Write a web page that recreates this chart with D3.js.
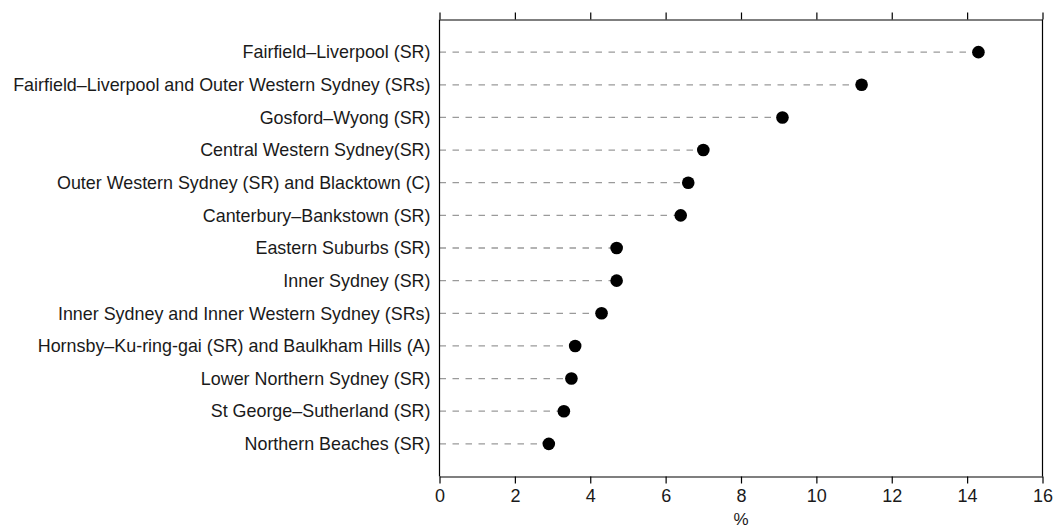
<!DOCTYPE html>
<html>
<head>
<meta charset="utf-8">
<script src="https://cdn.jsdelivr.net/npm/d3@7/dist/d3.min.js"></script>
<style>
  html, body { margin: 0; padding: 0; background: #fff; }
  svg { display: block; }
  text { font-family: "Liberation Sans", Arial, sans-serif; fill: #1a1a1a; }
</style>
</head>
<body>
<svg id="chart" width="1057" height="530"></svg>
<script>
const categories = [
  "Fairfield–Liverpool (SR)",
  "Fairfield–Liverpool and Outer Western Sydney (SRs)",
  "Gosford–Wyong (SR)",
  "Central Western Sydney(SR)",
  "Outer Western Sydney (SR) and Blacktown (C)",
  "Canterbury–Bankstown (SR)",
  "Eastern Suburbs (SR)",
  "Inner Sydney (SR)",
  "Inner Sydney and Inner Western Sydney (SRs)",
  "Hornsby–Ku-ring-gai (SR) and Baulkham Hills (A)",
  "Lower Northern Sydney (SR)",
  "St George–Sutherland (SR)",
  "Northern Beaches (SR)"
];
const values = [14.3, 11.2, 9.1, 7.0, 6.6, 6.4, 4.7, 4.7, 4.3, 3.6, 3.5, 3.3, 2.9];
const xTicks = [0, 2, 4, 6, 8, 10, 12, 14, 16];
const xTitle = "%";

const svg = d3.select("#chart");
const pLeft = 439.5, pRight = 1042.5, pTop = 19.5, pBottom = 476.5;

const x = d3.scaleLinear().domain([0, 16]).range([pLeft, pRight]);
const y = d3.scalePoint().domain(categories).range([pTop, pBottom]).padding(1);

// dashed leader lines
svg.append("g").selectAll("line").data(values).join("line")
  .attr("x1", x(0)).attr("x2", (d) => x(d))
  .attr("y1", (d, i) => y(categories[i])).attr("y2", (d, i) => y(categories[i]))
  .attr("stroke", "#9a9a9a").attr("stroke-width", 1.3)
  .attr("stroke-dasharray", "6.5,6.5");

// frame
const frame = svg.append("g").attr("fill", "none").attr("stroke", "#000").attr("stroke-width", 1.2);
frame.append("line").attr("x1", pLeft).attr("x2", pLeft).attr("y1", pTop).attr("y2", pBottom);
frame.append("line").attr("x1", pRight).attr("x2", pRight).attr("y1", pTop).attr("y2", pBottom);

// top axis (ticks only)
const topAxis = svg.append("g").attr("transform", `translate(0,${pTop})`)
  .call(d3.axisTop(x).tickValues(xTicks).tickSize(7).tickSizeOuter(0).tickFormat(""));
topAxis.selectAll("path, line").attr("stroke", "#000").attr("stroke-width", 1.2);

// bottom axis
const bottomAxis = svg.append("g").attr("transform", `translate(0,${pBottom})`)
  .call(d3.axisBottom(x).tickValues(xTicks).tickSize(7).tickSizeOuter(0).tickPadding(6).tickFormat(d3.format("d")));
bottomAxis.selectAll("path, line").attr("stroke", "#000").attr("stroke-width", 1.2);
bottomAxis.selectAll("text").style("font-size", "18px").style("font-family", "'Liberation Sans', Arial, sans-serif").attr("fill", "#1a1a1a");

// left category axis (labels only)
const leftAxis = svg.append("g").attr("transform", `translate(${pLeft},0)`)
  .call(d3.axisLeft(y).tickSize(0).tickPadding(9));
leftAxis.select(".domain").remove();
leftAxis.selectAll("text").style("font-size", "17.9px").style("font-family", "'Liberation Sans', Arial, sans-serif").attr("fill", "#1a1a1a");

// dots
svg.append("g").selectAll("circle").data(values).join("circle")
  .attr("cx", (d) => x(d)).attr("cy", (d, i) => y(categories[i]))
  .attr("r", 6.3).attr("fill", "#000");

// x title
svg.append("text").attr("x", x(8)).attr("y", 525).attr("text-anchor", "middle")
  .style("font-size", "17px").text(xTitle);
</script>
</body>
</html>
